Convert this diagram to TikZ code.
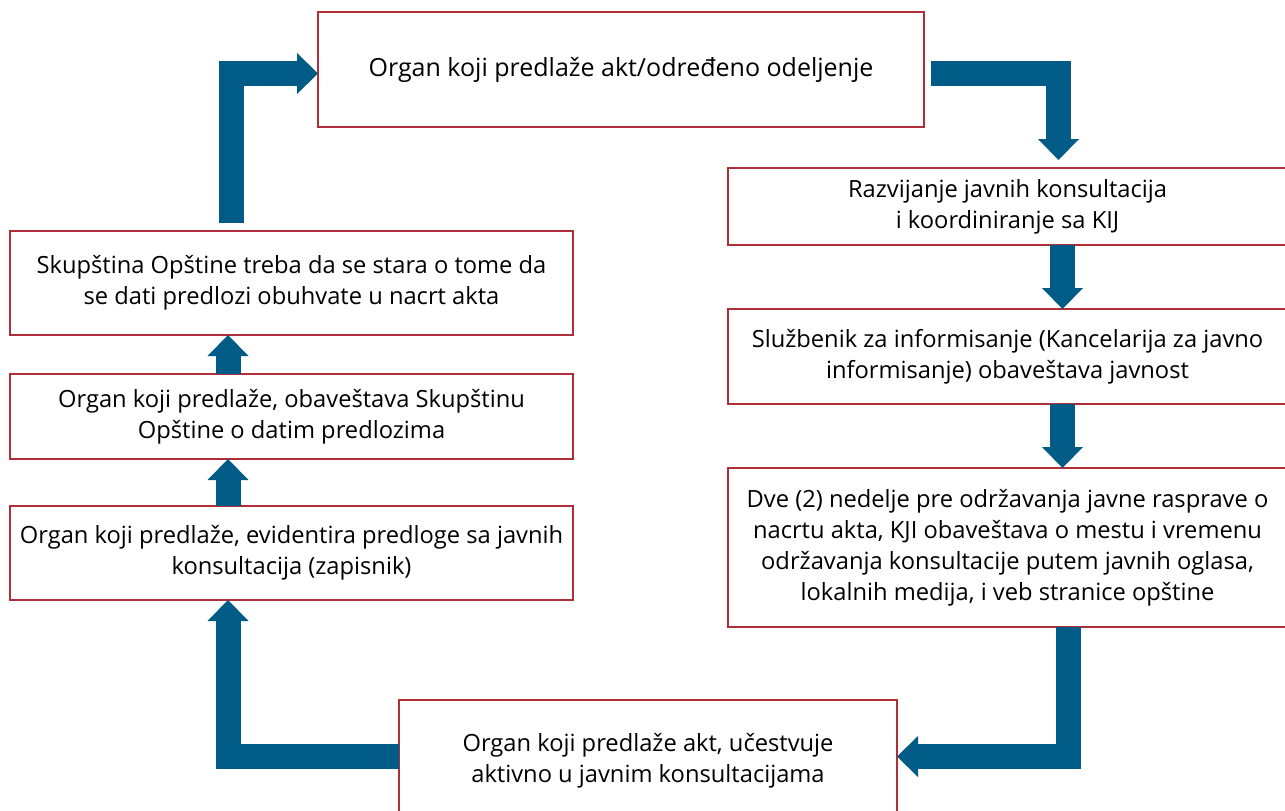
\documentclass[tikz,border=0pt]{standalone}
\usepackage{fontspec}
\setmainfont{Open Sans}
\usetikzlibrary{arrows.meta,calc}
\definecolor{boxred}{RGB}{176,46,56}
\definecolor{flowblue}{RGB}{0,91,135}
\tikzset{
 box/.style={draw=boxred, line width=2.5pt, align=center, inner sep=0pt, outer sep=0pt,
   font=\fontsize{23.7}{31}\selectfont, text=black},
 flow/.style={draw=flowblue, line width=25pt, line join=miter,
   -{Triangle[length=21pt,width=41pt,line width=0pt]}}
}
\begin{document}
\begin{tikzpicture}[x=1pt,y=-1pt]
\useasboundingbox (0,0) rectangle (1285,811);
\clip (0,0) rectangle (1285,811);
\node[box, font=\fontsize{25}{31}\selectfont, minimum width=606pt, minimum height=115pt] (top) at (621,69.5) {Organ koji predlaže akt/određeno odeljenje};
\node[box, minimum width=559pt, minimum height=77pt] (r1) at (1007.5,206.5) {Razvijanje javnih konsultacija\\ i koordiniranje sa KIJ};
\node[box, minimum width=559pt, minimum height=95pt] (r2) at (1007.5,356.5) {Službenik za informisanje (Kancelarija za javno\\ informisanje) obaveštava javnost};
\node[box, minimum width=559pt, minimum height=159pt] (r3) at (1007.5,547.5) {Dve (2) nedelje pre održavanja javne rasprave o\\ nacrtu akta, KJI obaveštava o mestu i vremenu\\ održavanja konsultacije putem javnih oglasa,\\ lokalnih medija, i veb stranice opštine};
\node[box, minimum width=498pt, minimum height=122pt] (bottom) at (648,761) {Organ koji predlaže akt, učestvuje\\ aktivno u javnim konsultacijama};
\node[box, minimum width=563pt, minimum height=104pt] (l1) at (291.5,283) {Skupština Opštine treba da se stara o tome da\\ se dati predlozi obuhvate u nacrt akta};
\node[box, minimum width=563pt, minimum height=85pt] (l2) at (291.5,416.5) {Organ koji predlaže, obaveštava Skupštinu\\ Opštine o datim predlozima};
\node[box, minimum width=563pt, minimum height=94pt] (l3) at (291.5,553) {Organ koji predlaže, evidentira predloge sa javnih\\ konsultacija (zapisnik)};

\draw[flow] ([xshift=221.5pt,yshift=8pt]l1.north west) |- ([yshift=-4pt]top.west);
\draw[flow] ([xshift=7pt,yshift=-4pt]top.east) -| ([xshift=51pt,yshift=8pt]r1.north);
\draw[flow] ([xshift=55pt]r1.south) -- ([xshift=55pt]r2.north);
\draw[flow] ([xshift=55pt]r2.south) -- ([xshift=55pt]r3.north);
\draw[flow] ([xshift=60.5pt]r3.south) |- ([yshift=4.5pt]bottom.east);
\draw[flow] ([yshift=4.5pt]bottom.west) -| ([xshift=218pt]l3.south west);
\draw[flow] ([xshift=218pt]l3.north west) -- ([xshift=218pt]l2.south west);
\draw[flow] ([xshift=218pt]l2.north west) -- ([xshift=218pt]l1.south west);
\end{tikzpicture}
\end{document}
